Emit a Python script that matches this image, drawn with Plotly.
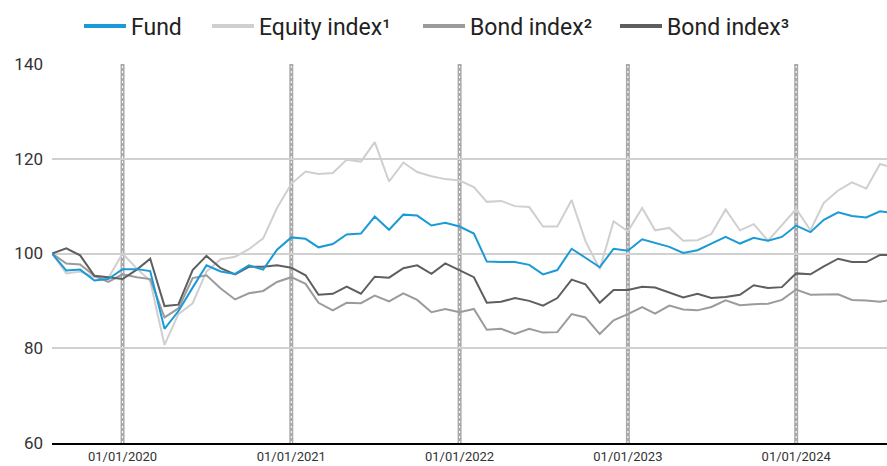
import pandas as pd
import plotly.graph_objects as go

# Monthly dates, Aug 2019 .. Aug 2024
dates = pd.date_range("2019-08-01", "2024-08-01", freq="MS").strftime("%Y-%m-%d").tolist()

fund = [100, 96.4, 96.6, 94.3, 94.6, 96.7, 96.7, 96.3, 84.1, 87.8, 92.8, 97.5, 96.2, 95.7, 97.5, 96.6,
        100.8, 103.4, 103.1, 101.3, 102.0, 104.0, 104.2, 107.8, 105.0, 108.2, 108.0, 105.9, 106.5, 105.7,
        104.2, 98.3, 98.2, 98.2, 97.6, 95.6, 96.5, 101.0, 99.1, 97.1, 101.0, 100.6, 103.0, 102.2, 101.4,
        100.1, 100.7, 102.1, 103.5, 102.1, 103.3, 102.7, 103.5, 105.9, 104.5, 107.1, 108.7, 107.9, 107.6,
        108.9, 108.5]

equity = [100, 95.8, 96.2, 95.0, 94.8, 100.0, 96.8, 94.2, 80.7, 87.2, 89.5, 96.2, 98.8, 99.3, 100.9, 103.2,
          109.6, 114.7, 117.3, 116.8, 117.0, 119.8, 119.4, 123.5, 115.2, 119.2, 117.2, 116.3, 115.7, 115.4,
          114.0, 110.9, 111.1, 110.0, 109.8, 105.7, 105.7, 111.3, 102.6, 96.7, 106.8, 104.7, 109.6, 104.9,
          105.4, 102.7, 102.8, 104.1, 109.3, 104.9, 106.2, 102.7, 106.0, 109.4, 104.9, 110.7, 113.3, 115.0,
          113.7, 118.9, 118.0]

bond2 = [100, 97.9, 97.7, 95.3, 94.0, 95.6, 95.0, 94.6, 86.5, 88.4, 94.8, 95.4, 92.6, 90.3, 91.6, 92.1,
         94.0, 95.0, 93.6, 89.6, 88.0, 89.6, 89.5, 91.1, 89.9, 91.6, 90.2, 87.6, 88.3, 87.6, 88.3, 83.9,
         84.1, 83.0, 84.1, 83.3, 83.4, 87.2, 86.5, 83.0, 85.9, 87.2, 88.7, 87.3, 89.0, 88.2, 88.0, 88.7,
         90.1, 89.1, 89.3, 89.4, 90.2, 92.4, 91.3, 91.3, 91.4, 90.2, 90.1, 89.8, 90.4]

bond3 = [100, 101.1, 99.6, 95.3, 95.0, 94.6, 96.6, 98.9, 88.9, 89.2, 96.5, 99.5, 96.9, 95.6, 97.2, 97.2,
         97.5, 97.0, 95.4, 91.3, 91.5, 93.0, 91.5, 95.1, 94.9, 96.9, 97.5, 95.7, 97.9, 96.5, 95.0, 89.6,
         89.8, 90.6, 90.0, 89.0, 90.6, 94.5, 93.5, 89.6, 92.3, 92.3, 93.0, 92.8, 91.8, 90.7, 91.5, 90.6,
         90.8, 91.3, 93.3, 92.7, 92.9, 95.8, 95.6, 97.3, 98.9, 98.2, 98.2, 99.7, 99.7]

series_names = ["Fund", "Equity index¹", "Bond index²", "Bond index³"]
series_colors = ["#1a9ad6", "#cfcfcf", "#9b9b9b", "#5e5e5e"]
series_values = [fund, equity, bond2, bond3]

tick_dates = ["2020-01-01", "2021-01-01", "2022-01-01", "2023-01-01", "2024-01-01"]
tick_labels = ["01/01/2020", "01/01/2021", "01/01/2022", "01/01/2023", "01/01/2024"]

fig = go.Figure()
# draw order: equity, bond2, bond3, fund on top
for idx in [1, 2, 3, 0]:
    fig.add_trace(go.Scatter(x=dates, y=series_values[idx], mode="lines", name=series_names[idx],
                             line=dict(color=series_colors[idx], width=2), showlegend=False,
                             hoverinfo="skip"))

# one legend per entry, so each entry can be placed like the reference
legend_ids = ["legend", "legend2", "legend3", "legend4"]
legend_x = [79 / 887, 207 / 887, 418 / 887, 615 / 887]
for idx in range(4):
    fig.add_trace(go.Scatter(x=[dates[0]], y=[None], mode="lines", name=series_names[idx],
                             legend=legend_ids[idx],
                             line=dict(color=series_colors[idx], width=4), showlegend=True))

shapes = []
for d in tick_dates:
    shapes.append(dict(type="line", xref="x", yref="paper", x0=d, x1=d, y0=0, y1=1,
                       line=dict(color="#aaaaaa", width=4), layer="below"))
    shapes.append(dict(type="line", xref="x", yref="paper", x0=d, x1=d, y0=0, y1=1,
                       line=dict(color="#ffffff", width=1, dash="2px,3px"), layer="below"))

legend_common = dict(orientation="h", xanchor="left", y=0.99, yanchor="top", xref="container",
                     yref="container", font=dict(size=23, family="Roboto", color="#222222"),
                     itemwidth=42, bgcolor="rgba(0,0,0,0)")

fig.update_layout(
    width=887, height=466,
    margin=dict(l=52, r=0, t=64, b=23),
    paper_bgcolor="white", plot_bgcolor="white",
    font=dict(family="Roboto", color="#222222"),
    shapes=shapes,
    legend=dict(x=legend_x[0], **legend_common),
    legend2=dict(x=legend_x[1], **legend_common),
    legend3=dict(x=legend_x[2], **legend_common),
    legend4=dict(x=legend_x[3], **legend_common),
    xaxis=dict(range=["2019-08-01", "2024-07-16"], tickvals=tick_dates, ticktext=tick_labels,
               showgrid=False, zeroline=False, showline=True, linecolor="#000000", linewidth=2,
               ticks="", tickfont=dict(size=13, color="#333333")),
    yaxis=dict(range=[60, 140], dtick=20, showgrid=True, gridcolor="#d0d0d0", gridwidth=2,
               zeroline=False, showline=False, ticks="", tickfont=dict(size=17, color="#333333"),
               ticklabelstandoff=8),
)

fig.write_html("out.html", config={"displayModeBar": False},
               post_script="document.body.style.margin='0';document.body.style.overflow='hidden';")
